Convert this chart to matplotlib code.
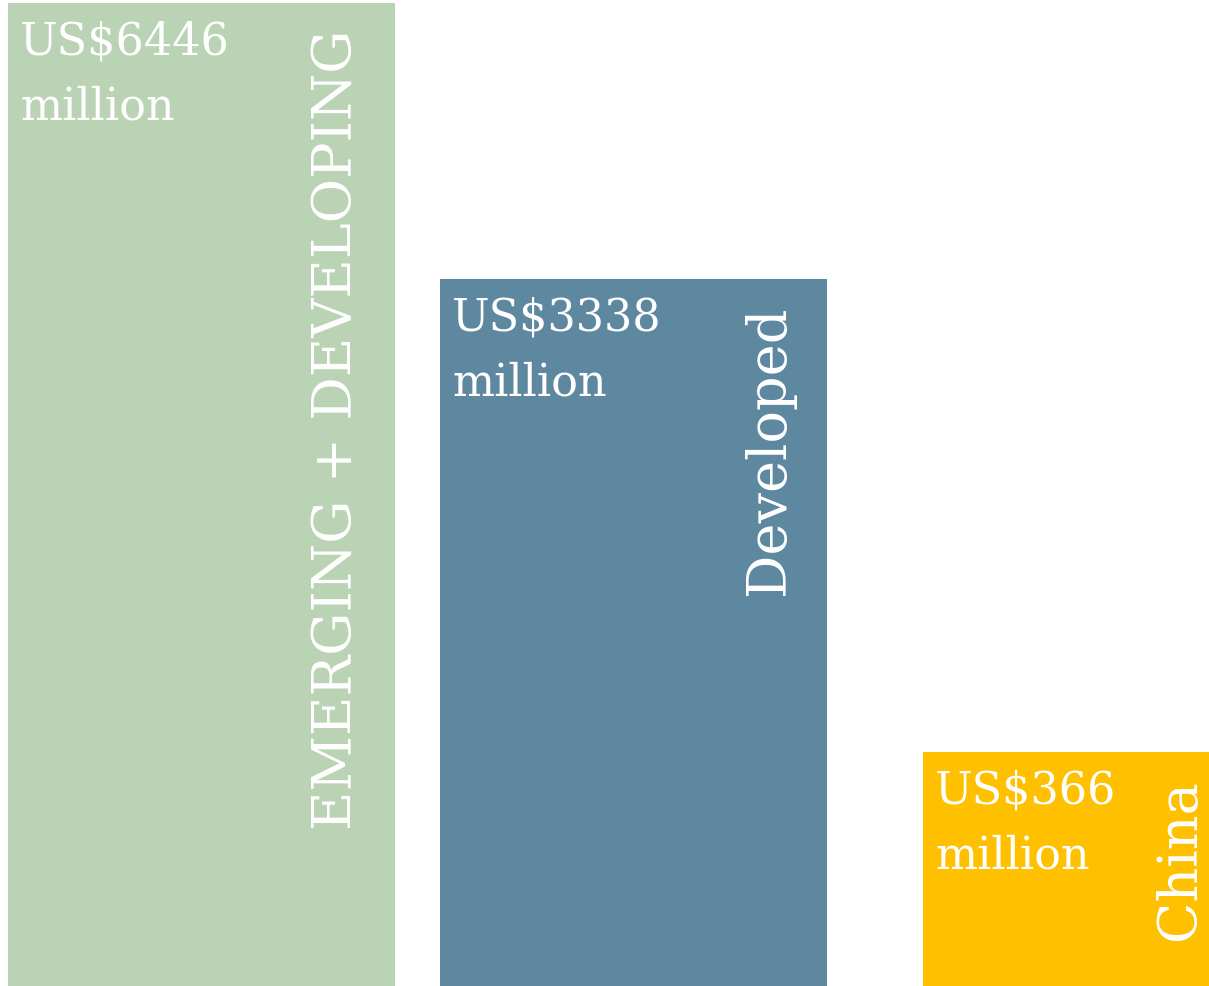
import matplotlib.pyplot as plt
import numpy as np

# spend by market group, US$ million
groups = ["EMERGING + DEVELOPING", "Developed", "China"]
spend = [6446, 3338, 366]

# layout (pixel units along x)
lefts = [8, 440, 923]
widths = [387, 387, 315]
colors = ["#bbd3b5", "#5e87a0", "#ffc000"]

plt.rcParams["font.family"] = "DejaVu Serif"

fig = plt.figure(figsize=(12.09, 9.86), dpi=100)
ax = fig.add_axes([0, 0, 1, 1])
ax.set_yscale("function", functions=(np.sqrt, np.square))
ax.set_xlim(0, 1209)
ax.set_ylim(0, 6485)
ax.axis("off")

ax.bar(lefts, spend, width=widths, align="edge", color=colors, linewidth=0)

for left, w, v, name in zip(lefts, widths, spend, groups):
    ax.annotate(f"US${v}", xy=(left, v), xytext=(12, -52), textcoords="offset pixels",
                fontsize=32, color="white", va="baseline", ha="left")
    ax.annotate("million", xy=(left, v), xytext=(12, -117), textcoords="offset pixels",
                fontsize=32, color="white", va="baseline", ha="left")
    ax.annotate(name, xy=(left + w, v), xytext=(-43, -27), textcoords="offset pixels",
                fontsize=39, color="white", rotation=90, rotation_mode="anchor",
                ha="right", va="baseline", annotation_clip=False)

fig.savefig("out.png", facecolor="white")
